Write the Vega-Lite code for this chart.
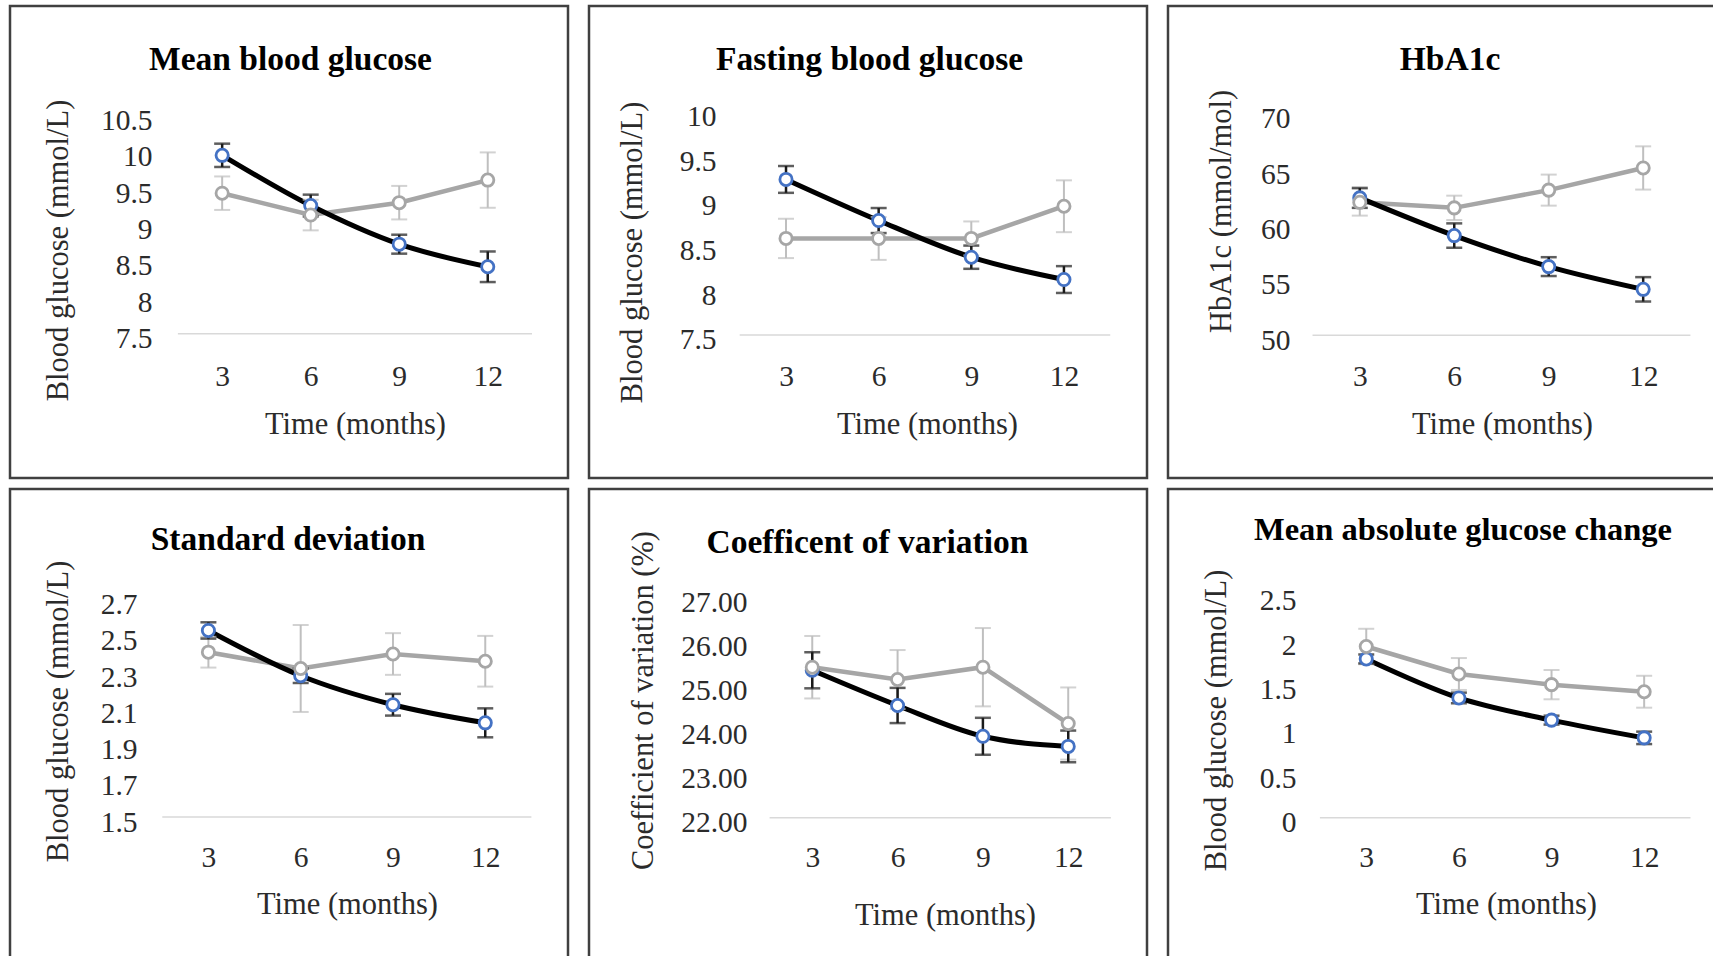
{
"$schema":"https://vega.github.io/schema/vega-lite/v6.json",
"background":"#ffffff",
"padding":{"left":8,"top":4,"right":0,"bottom":0},
"config":{
 "view":{"stroke":"#404040","strokeWidth":2.5,"fill":"#ffffff"},
 "axis":{"domain":false,"ticks":false,"tickSize":0,"grid":false,"labelPadding":0,"labelFont":"Liberation Serif","labelFontSize":29.5,"labelColor":"#2b2b2b","titleFont":"Liberation Serif","titleFontSize":30.5,"titleFontWeight":"normal","titleColor":"#2b2b2b","labelOverlap":false,"labelFlush":false,"labelBound":false,"titlePadding":0},
 "axisY":{"labelAlign":"right","labelBaseline":"middle","labelOffset":5,"titleAngle":-90,"titleBaseline":"middle","titleAlign":"center"},
 "axisX":{"labelAlign":"center","labelBaseline":"middle","titleAngle":0,"titleBaseline":"middle","titleAlign":"center"},
 "title":{"font":"Liberation Serif","fontWeight":"bold","color":"#000000","anchor":"middle","frame":"group","baseline":"middle"}
},
"datasets":{"glyc":[
 {"p":"MBG","g":"A","m":3,"v":9.95,"lo":9.79,"hi":10.11},
 {"p":"MBG","g":"A","m":6,"v":9.26,"lo":9.11,"hi":9.41},
 {"p":"MBG","g":"A","m":9,"v":8.73,"lo":8.60,"hi":8.86},
 {"p":"MBG","g":"A","m":12,"v":8.42,"lo":8.21,"hi":8.63},
 {"p":"MBG","g":"B","m":3,"v":9.43,"lo":9.20,"hi":9.66},
 {"p":"MBG","g":"B","m":6,"v":9.13,"lo":8.92,"hi":9.34},
 {"p":"MBG","g":"B","m":9,"v":9.30,"lo":9.07,"hi":9.53},
 {"p":"MBG","g":"B","m":12,"v":9.61,"lo":9.23,"hi":9.99},
 {"p":"FBG","g":"A","m":3,"v":9.24,"lo":9.09,"hi":9.39},
 {"p":"FBG","g":"A","m":6,"v":8.78,"lo":8.64,"hi":8.92},
 {"p":"FBG","g":"A","m":9,"v":8.37,"lo":8.24,"hi":8.50},
 {"p":"FBG","g":"A","m":12,"v":8.12,"lo":7.97,"hi":8.27},
 {"p":"FBG","g":"B","m":3,"v":8.58,"lo":8.36,"hi":8.80},
 {"p":"FBG","g":"B","m":6,"v":8.58,"lo":8.34,"hi":8.82},
 {"p":"FBG","g":"B","m":9,"v":8.58,"lo":8.39,"hi":8.77},
 {"p":"FBG","g":"B","m":12,"v":8.94,"lo":8.65,"hi":9.23},
 {"p":"HBA","g":"A","m":3,"v":62.4,"lo":61.5,"hi":63.3},
 {"p":"HBA","g":"A","m":6,"v":59.0,"lo":57.9,"hi":60.1},
 {"p":"HBA","g":"A","m":9,"v":56.2,"lo":55.35,"hi":57.05},
 {"p":"HBA","g":"A","m":12,"v":54.15,"lo":53.05,"hi":55.25},
 {"p":"HBA","g":"B","m":3,"v":62.0,"lo":60.8,"hi":63.2},
 {"p":"HBA","g":"B","m":6,"v":61.5,"lo":60.4,"hi":62.6},
 {"p":"HBA","g":"B","m":9,"v":63.1,"lo":61.7,"hi":64.5},
 {"p":"HBA","g":"B","m":12,"v":65.1,"lo":63.15,"hi":67.05},
 {"p":"SD","g":"A","m":3,"v":2.53,"lo":2.485,"hi":2.575},
 {"p":"SD","g":"A","m":6,"v":2.28,"lo":2.24,"hi":2.32},
 {"p":"SD","g":"A","m":9,"v":2.12,"lo":2.06,"hi":2.18},
 {"p":"SD","g":"A","m":12,"v":2.02,"lo":1.94,"hi":2.10},
 {"p":"SD","g":"B","m":3,"v":2.41,"lo":2.325,"hi":2.495},
 {"p":"SD","g":"B","m":6,"v":2.32,"lo":2.08,"hi":2.56},
 {"p":"SD","g":"B","m":9,"v":2.40,"lo":2.285,"hi":2.515},
 {"p":"SD","g":"B","m":12,"v":2.36,"lo":2.22,"hi":2.50},
 {"p":"CV","g":"A","m":3,"v":25.35,"lo":24.94,"hi":25.76},
 {"p":"CV","g":"A","m":6,"v":24.55,"lo":24.15,"hi":24.95},
 {"p":"CV","g":"A","m":9,"v":23.85,"lo":23.43,"hi":24.27},
 {"p":"CV","g":"A","m":12,"v":23.62,"lo":23.26,"hi":23.98},
 {"p":"CV","g":"B","m":3,"v":25.42,"lo":24.71,"hi":26.13},
 {"p":"CV","g":"B","m":6,"v":25.14,"lo":24.47,"hi":25.81},
 {"p":"CV","g":"B","m":9,"v":25.42,"lo":24.53,"hi":26.31},
 {"p":"CV","g":"B","m":12,"v":24.14,"lo":23.32,"hi":24.96},
 {"p":"MAGE","g":"A","m":3,"v":1.79,"lo":1.74,"hi":1.84},
 {"p":"MAGE","g":"A","m":6,"v":1.35,"lo":1.29,"hi":1.41},
 {"p":"MAGE","g":"A","m":9,"v":1.10,"lo":1.05,"hi":1.15},
 {"p":"MAGE","g":"A","m":12,"v":0.90,"lo":0.83,"hi":0.97},
 {"p":"MAGE","g":"B","m":3,"v":1.93,"lo":1.73,"hi":2.13},
 {"p":"MAGE","g":"B","m":6,"v":1.62,"lo":1.44,"hi":1.80},
 {"p":"MAGE","g":"B","m":9,"v":1.50,"lo":1.335,"hi":1.665},
 {"p":"MAGE","g":"B","m":12,"v":1.42,"lo":1.24,"hi":1.60}
]},
"data":{"name":"glyc"},
"columns":3,
"spacing":{"row":11,"column":21},
"bounds":"flush",
"concat":[
{
 "width":558,"height":472,
 "title":{"text":"Mean blood glucose","fontSize":33.5,"dx":1.5,"offset":-71.5},
 "layer":[
  {"data":{"values":[{}]},"mark":{"type":"rule","color":"#d9d9d9","strokeWidth":1.5},"encoding":{"x":{"datum":1.5,"type":"quantitative","scale":{"domain":[-4.19,14.72],"nice":false},"axis":{"values":[3,6,9,12],"offset":-102,"title":"Time (months)","titleX":345,"titleY":48}},"x2":{"datum":13.5},"y":{"datum":7.5,"type":"quantitative","scale":{"domain":[5.52,12.0],"nice":false},"axis":{"values":[7.5,8,8.5,9,9.5,10,10.5],"format":"~g","offset":-142,"title":"Blood glucose (mmol/L)","titleX":-94,"titleY":244}}}},
  {"transform":[{"filter":"datum.p==='MBG' && datum.g==='B'"}],"mark":{"type":"line","color":"#a6a6a6","strokeWidth":4.5},"encoding":{"x":{"field":"m","type":"quantitative","scale":{"domain":[-4.19,14.72],"nice":false}},"y":{"field":"v","type":"quantitative","scale":{"domain":[5.52,12.0],"nice":false}}}},
  {"transform":[{"filter":"datum.p==='MBG' && datum.g==='A'"}],"mark":{"type":"line","color":"#000000","strokeWidth":5,"interpolate":"monotone"},"encoding":{"x":{"field":"m","type":"quantitative","scale":{"domain":[-4.19,14.72],"nice":false}},"y":{"field":"v","type":"quantitative","scale":{"domain":[5.52,12.0],"nice":false}}}},
  {"transform":[{"filter":"datum.p==='MBG' && datum.g==='B'"}],"mark":{"type":"errorbar","color":"#bfbfbf","thickness":2,"size":16,"ticks":true},"encoding":{"x":{"field":"m","type":"quantitative","scale":{"domain":[-4.19,14.72],"nice":false}},"y":{"field":"lo","type":"quantitative","title":"Blood glucose (mmol/L)","scale":{"domain":[5.52,12.0],"nice":false}},"y2":{"field":"hi"}}},
  {"transform":[{"filter":"datum.p==='MBG' && datum.g==='A'"}],"mark":{"type":"errorbar","color":"#1a1a1a","thickness":2.5,"size":16,"ticks":true},"encoding":{"x":{"field":"m","type":"quantitative","scale":{"domain":[-4.19,14.72],"nice":false}},"y":{"field":"lo","type":"quantitative","title":"Blood glucose (mmol/L)","scale":{"domain":[5.52,12.0],"nice":false}},"y2":{"field":"hi"}}},
  {"transform":[{"filter":"datum.p==='MBG' && datum.g==='A'"}],"mark":{"type":"point","shape":"circle","filled":true,"fill":"#ffffff","stroke":"#4472c4","strokeWidth":2.8,"size":150,"opacity":1},"encoding":{"x":{"field":"m","type":"quantitative","scale":{"domain":[-4.19,14.72],"nice":false}},"y":{"field":"v","type":"quantitative","scale":{"domain":[5.52,12.0],"nice":false}}}},
  {"transform":[{"filter":"datum.p==='MBG' && datum.g==='B'"}],"mark":{"type":"point","shape":"circle","filled":true,"fill":"#ffffff","stroke":"#a6a6a6","strokeWidth":2.8,"size":150,"opacity":1},"encoding":{"x":{"field":"m","type":"quantitative","scale":{"domain":[-4.19,14.72],"nice":false}},"y":{"field":"v","type":"quantitative","scale":{"domain":[5.52,12.0],"nice":false}}}}
 ]
},
{
 "width":558,"height":472,
 "title":{"text":"Fasting blood glucose","fontSize":33.5,"dx":1.5,"offset":-71.5},
 "layer":[
  {"data":{"values":[{}]},"mark":{"type":"rule","color":"#d9d9d9","strokeWidth":1.5},"encoding":{"x":{"datum":1.5,"type":"quantitative","scale":{"domain":[-3.38,14.69],"nice":false},"axis":{"values":[3,6,9,12],"offset":-102,"title":"Time (months)","titleX":338,"titleY":48}},"x2":{"datum":13.5},"y":{"datum":7.5,"type":"quantitative","scale":{"domain":[5.90,11.18],"nice":false},"axis":{"values":[7.5,8,8.5,9,9.5,10],"format":"~g","offset":-127,"title":"Blood glucose (mmol/L)","titleX":-83.5,"titleY":246}}}},
  {"transform":[{"filter":"datum.p==='FBG' && datum.g==='B'"}],"mark":{"type":"line","color":"#a6a6a6","strokeWidth":4.5},"encoding":{"x":{"field":"m","type":"quantitative","scale":{"domain":[-3.38,14.69],"nice":false}},"y":{"field":"v","type":"quantitative","scale":{"domain":[5.90,11.18],"nice":false}}}},
  {"transform":[{"filter":"datum.p==='FBG' && datum.g==='A'"}],"mark":{"type":"line","color":"#000000","strokeWidth":5,"interpolate":"monotone"},"encoding":{"x":{"field":"m","type":"quantitative","scale":{"domain":[-3.38,14.69],"nice":false}},"y":{"field":"v","type":"quantitative","scale":{"domain":[5.90,11.18],"nice":false}}}},
  {"transform":[{"filter":"datum.p==='FBG' && datum.g==='B'"}],"mark":{"type":"errorbar","color":"#bfbfbf","thickness":2,"size":16,"ticks":true},"encoding":{"x":{"field":"m","type":"quantitative","scale":{"domain":[-3.38,14.69],"nice":false}},"y":{"field":"lo","type":"quantitative","title":"Blood glucose (mmol/L)","scale":{"domain":[5.90,11.18],"nice":false}},"y2":{"field":"hi"}}},
  {"transform":[{"filter":"datum.p==='FBG' && datum.g==='A'"}],"mark":{"type":"errorbar","color":"#1a1a1a","thickness":2.5,"size":16,"ticks":true},"encoding":{"x":{"field":"m","type":"quantitative","scale":{"domain":[-3.38,14.69],"nice":false}},"y":{"field":"lo","type":"quantitative","title":"Blood glucose (mmol/L)","scale":{"domain":[5.90,11.18],"nice":false}},"y2":{"field":"hi"}}},
  {"transform":[{"filter":"datum.p==='FBG' && datum.g==='A'"}],"mark":{"type":"point","shape":"circle","filled":true,"fill":"#ffffff","stroke":"#4472c4","strokeWidth":2.8,"size":150,"opacity":1},"encoding":{"x":{"field":"m","type":"quantitative","scale":{"domain":[-3.38,14.69],"nice":false}},"y":{"field":"v","type":"quantitative","scale":{"domain":[5.90,11.18],"nice":false}}}},
  {"transform":[{"filter":"datum.p==='FBG' && datum.g==='B'"}],"mark":{"type":"point","shape":"circle","filled":true,"fill":"#ffffff","stroke":"#a6a6a6","strokeWidth":2.8,"size":150,"opacity":1},"encoding":{"x":{"field":"m","type":"quantitative","scale":{"domain":[-3.38,14.69],"nice":false}},"y":{"field":"v","type":"quantitative","scale":{"domain":[5.90,11.18],"nice":false}}}}
 ]
},
{
 "width":558,"height":472,
 "title":{"text":"HbA1c","fontSize":33.5,"dx":3,"offset":-71.5},
 "layer":[
  {"data":{"values":[{}]},"mark":{"type":"rule","color":"#d9d9d9","strokeWidth":1.5},"encoding":{"x":{"datum":1.5,"type":"quantitative","scale":{"domain":[-3.09,14.63],"nice":false},"axis":{"values":[3,6,9,12],"offset":-102,"title":"Time (months)","titleX":334,"titleY":48}},"x2":{"datum":13.5},"y":{"datum":50,"type":"quantitative","scale":{"domain":[37.13,79.71],"nice":false},"axis":{"values":[50,55,60,65,70],"format":"~g","offset":-122,"title":"HbA1c (mmol/mol)","titleX":-69,"titleY":205}}}},
  {"transform":[{"filter":"datum.p==='HBA' && datum.g==='B'"}],"mark":{"type":"line","color":"#a6a6a6","strokeWidth":4.5},"encoding":{"x":{"field":"m","type":"quantitative","scale":{"domain":[-3.09,14.63],"nice":false}},"y":{"field":"v","type":"quantitative","scale":{"domain":[37.13,79.71],"nice":false}}}},
  {"transform":[{"filter":"datum.p==='HBA' && datum.g==='A'"}],"mark":{"type":"line","color":"#000000","strokeWidth":5,"interpolate":"monotone"},"encoding":{"x":{"field":"m","type":"quantitative","scale":{"domain":[-3.09,14.63],"nice":false}},"y":{"field":"v","type":"quantitative","scale":{"domain":[37.13,79.71],"nice":false}}}},
  {"transform":[{"filter":"datum.p==='HBA' && datum.g==='B'"}],"mark":{"type":"errorbar","color":"#bfbfbf","thickness":2,"size":16,"ticks":true},"encoding":{"x":{"field":"m","type":"quantitative","scale":{"domain":[-3.09,14.63],"nice":false}},"y":{"field":"lo","type":"quantitative","title":"HbA1c (mmol/mol)","scale":{"domain":[37.13,79.71],"nice":false}},"y2":{"field":"hi"}}},
  {"transform":[{"filter":"datum.p==='HBA' && datum.g==='A'"}],"mark":{"type":"errorbar","color":"#1a1a1a","thickness":2.5,"size":16,"ticks":true},"encoding":{"x":{"field":"m","type":"quantitative","scale":{"domain":[-3.09,14.63],"nice":false}},"y":{"field":"lo","type":"quantitative","title":"HbA1c (mmol/mol)","scale":{"domain":[37.13,79.71],"nice":false}},"y2":{"field":"hi"}}},
  {"transform":[{"filter":"datum.p==='HBA' && datum.g==='A'"}],"mark":{"type":"point","shape":"circle","filled":true,"fill":"#ffffff","stroke":"#4472c4","strokeWidth":2.8,"size":150,"opacity":1},"encoding":{"x":{"field":"m","type":"quantitative","scale":{"domain":[-3.09,14.63],"nice":false}},"y":{"field":"v","type":"quantitative","scale":{"domain":[37.13,79.71],"nice":false}}}},
  {"transform":[{"filter":"datum.p==='HBA' && datum.g==='B'"}],"mark":{"type":"point","shape":"circle","filled":true,"fill":"#ffffff","stroke":"#a6a6a6","strokeWidth":2.8,"size":150,"opacity":1},"encoding":{"x":{"field":"m","type":"quantitative","scale":{"domain":[-3.09,14.63],"nice":false}},"y":{"field":"v","type":"quantitative","scale":{"domain":[37.13,79.71],"nice":false}}}}
 ]
},
{
 "width":558,"height":472,
 "title":{"text":"Standard deviation","fontSize":33.5,"dx":-1,"offset":-68.5},
 "layer":[
  {"data":{"values":[{}]},"mark":{"type":"rule","color":"#d9d9d9","strokeWidth":1.5},"encoding":{"x":{"datum":1.5,"type":"quantitative","scale":{"domain":[-3.45,14.69],"nice":false},"axis":{"values":[3,6,9,12],"offset":-103.5,"title":"Time (months)","titleX":337,"titleY":47}},"x2":{"datum":13.5},"y":{"datum":1.5,"type":"quantitative","scale":{"domain":[0.705,3.311],"nice":false},"axis":{"values":[1.5,1.7,1.9,2.1,2.3,2.5,2.7],"format":"~g","offset":-127,"title":"Blood glucose (mmol/L)","titleX":-79,"titleY":222}}}},
  {"transform":[{"filter":"datum.p==='SD' && datum.g==='B'"}],"mark":{"type":"line","color":"#a6a6a6","strokeWidth":4.5},"encoding":{"x":{"field":"m","type":"quantitative","scale":{"domain":[-3.45,14.69],"nice":false}},"y":{"field":"v","type":"quantitative","scale":{"domain":[0.705,3.311],"nice":false}}}},
  {"transform":[{"filter":"datum.p==='SD' && datum.g==='A'"}],"mark":{"type":"line","color":"#000000","strokeWidth":5,"interpolate":"monotone"},"encoding":{"x":{"field":"m","type":"quantitative","scale":{"domain":[-3.45,14.69],"nice":false}},"y":{"field":"v","type":"quantitative","scale":{"domain":[0.705,3.311],"nice":false}}}},
  {"transform":[{"filter":"datum.p==='SD' && datum.g==='B'"}],"mark":{"type":"errorbar","color":"#bfbfbf","thickness":2,"size":16,"ticks":true},"encoding":{"x":{"field":"m","type":"quantitative","scale":{"domain":[-3.45,14.69],"nice":false}},"y":{"field":"lo","type":"quantitative","title":"Blood glucose (mmol/L)","scale":{"domain":[0.705,3.311],"nice":false}},"y2":{"field":"hi"}}},
  {"transform":[{"filter":"datum.p==='SD' && datum.g==='A'"}],"mark":{"type":"errorbar","color":"#1a1a1a","thickness":2.5,"size":16,"ticks":true},"encoding":{"x":{"field":"m","type":"quantitative","scale":{"domain":[-3.45,14.69],"nice":false}},"y":{"field":"lo","type":"quantitative","title":"Blood glucose (mmol/L)","scale":{"domain":[0.705,3.311],"nice":false}},"y2":{"field":"hi"}}},
  {"transform":[{"filter":"datum.p==='SD' && datum.g==='A'"}],"mark":{"type":"point","shape":"circle","filled":true,"fill":"#ffffff","stroke":"#4472c4","strokeWidth":2.8,"size":150,"opacity":1},"encoding":{"x":{"field":"m","type":"quantitative","scale":{"domain":[-3.45,14.69],"nice":false}},"y":{"field":"v","type":"quantitative","scale":{"domain":[0.705,3.311],"nice":false}}}},
  {"transform":[{"filter":"datum.p==='SD' && datum.g==='B'"}],"mark":{"type":"point","shape":"circle","filled":true,"fill":"#ffffff","stroke":"#a6a6a6","strokeWidth":2.8,"size":150,"opacity":1},"encoding":{"x":{"field":"m","type":"quantitative","scale":{"domain":[-3.45,14.69],"nice":false}},"y":{"field":"v","type":"quantitative","scale":{"domain":[0.705,3.311],"nice":false}}}}
 ]
},
{
 "width":558,"height":472,
 "title":{"text":"Coefficent of variation","fontSize":33.5,"dx":-0.6,"offset":-71.5},
 "layer":[
  {"data":{"values":[{}]},"mark":{"type":"rule","color":"#d9d9d9","strokeWidth":1.5},"encoding":{"x":{"datum":1.5,"type":"quantitative","scale":{"domain":[-4.85,14.77],"nice":false},"axis":{"values":[3,6,9,12],"offset":-103.5,"title":"Time (months)","titleX":356,"titleY":58}},"x2":{"datum":13.5},"y":{"datum":22,"type":"quantitative","scale":{"domain":[18.743,29.47],"nice":false},"axis":{"values":[22,23,24,25,26,27],"format":".2f","offset":-158,"title":"Coefficient of variation (%)","titleX":-104,"titleY":211}}}},
  {"transform":[{"filter":"datum.p==='CV' && datum.g==='B'"}],"mark":{"type":"line","color":"#a6a6a6","strokeWidth":4.5},"encoding":{"x":{"field":"m","type":"quantitative","scale":{"domain":[-4.85,14.77],"nice":false}},"y":{"field":"v","type":"quantitative","scale":{"domain":[18.743,29.47],"nice":false}}}},
  {"transform":[{"filter":"datum.p==='CV' && datum.g==='A'"}],"mark":{"type":"line","color":"#000000","strokeWidth":5,"interpolate":"monotone"},"encoding":{"x":{"field":"m","type":"quantitative","scale":{"domain":[-4.85,14.77],"nice":false}},"y":{"field":"v","type":"quantitative","scale":{"domain":[18.743,29.47],"nice":false}}}},
  {"transform":[{"filter":"datum.p==='CV' && datum.g==='B'"}],"mark":{"type":"errorbar","color":"#bfbfbf","thickness":2,"size":16,"ticks":true},"encoding":{"x":{"field":"m","type":"quantitative","scale":{"domain":[-4.85,14.77],"nice":false}},"y":{"field":"lo","type":"quantitative","title":"Coefficient of variation (%)","scale":{"domain":[18.743,29.47],"nice":false}},"y2":{"field":"hi"}}},
  {"transform":[{"filter":"datum.p==='CV' && datum.g==='A'"}],"mark":{"type":"errorbar","color":"#1a1a1a","thickness":2.5,"size":16,"ticks":true},"encoding":{"x":{"field":"m","type":"quantitative","scale":{"domain":[-4.85,14.77],"nice":false}},"y":{"field":"lo","type":"quantitative","title":"Coefficient of variation (%)","scale":{"domain":[18.743,29.47],"nice":false}},"y2":{"field":"hi"}}},
  {"transform":[{"filter":"datum.p==='CV' && datum.g==='A'"}],"mark":{"type":"point","shape":"circle","filled":true,"fill":"#ffffff","stroke":"#4472c4","strokeWidth":2.8,"size":150,"opacity":1},"encoding":{"x":{"field":"m","type":"quantitative","scale":{"domain":[-4.85,14.77],"nice":false}},"y":{"field":"v","type":"quantitative","scale":{"domain":[18.743,29.47],"nice":false}}}},
  {"transform":[{"filter":"datum.p==='CV' && datum.g==='B'"}],"mark":{"type":"point","shape":"circle","filled":true,"fill":"#ffffff","stroke":"#a6a6a6","strokeWidth":2.8,"size":150,"opacity":1},"encoding":{"x":{"field":"m","type":"quantitative","scale":{"domain":[-4.85,14.77],"nice":false}},"y":{"field":"v","type":"quantitative","scale":{"domain":[18.743,29.47],"nice":false}}}}
 ]
},
{
 "width":558,"height":472,
 "title":{"text":"Mean absolute glucose change","fontSize":32.5,"dx":16,"offset":-57.5},
 "layer":[
  {"data":{"values":[{}]},"mark":{"type":"rule","color":"#d9d9d9","strokeWidth":1.5},"encoding":{"x":{"datum":1.5,"type":"quantitative","scale":{"domain":[-3.42,14.65],"nice":false},"axis":{"values":[3,6,9,12],"offset":-103.5,"title":"Time (months)","titleX":338,"titleY":47}},"x2":{"datum":13.5},"y":{"datum":0,"type":"quantitative","scale":{"domain":[-1.616,3.706],"nice":false},"axis":{"values":[0,0.5,1,1.5,2,2.5],"format":"~g","offset":-128,"title":"Blood glucose (mmol/L)","titleX":-80,"titleY":231}}}},
  {"transform":[{"filter":"datum.p==='MAGE' && datum.g==='B'"}],"mark":{"type":"line","color":"#a6a6a6","strokeWidth":4.5},"encoding":{"x":{"field":"m","type":"quantitative","scale":{"domain":[-3.42,14.65],"nice":false}},"y":{"field":"v","type":"quantitative","scale":{"domain":[-1.616,3.706],"nice":false}}}},
  {"transform":[{"filter":"datum.p==='MAGE' && datum.g==='A'"}],"mark":{"type":"line","color":"#000000","strokeWidth":5,"interpolate":"monotone"},"encoding":{"x":{"field":"m","type":"quantitative","scale":{"domain":[-3.42,14.65],"nice":false}},"y":{"field":"v","type":"quantitative","scale":{"domain":[-1.616,3.706],"nice":false}}}},
  {"transform":[{"filter":"datum.p==='MAGE' && datum.g==='B'"}],"mark":{"type":"errorbar","color":"#bfbfbf","thickness":2,"size":16,"ticks":true},"encoding":{"x":{"field":"m","type":"quantitative","scale":{"domain":[-3.42,14.65],"nice":false}},"y":{"field":"lo","type":"quantitative","title":"Blood glucose (mmol/L)","scale":{"domain":[-1.616,3.706],"nice":false}},"y2":{"field":"hi"}}},
  {"transform":[{"filter":"datum.p==='MAGE' && datum.g==='A'"}],"mark":{"type":"errorbar","color":"#1a1a1a","thickness":2.5,"size":16,"ticks":true},"encoding":{"x":{"field":"m","type":"quantitative","scale":{"domain":[-3.42,14.65],"nice":false}},"y":{"field":"lo","type":"quantitative","title":"Blood glucose (mmol/L)","scale":{"domain":[-1.616,3.706],"nice":false}},"y2":{"field":"hi"}}},
  {"transform":[{"filter":"datum.p==='MAGE' && datum.g==='A'"}],"mark":{"type":"point","shape":"circle","filled":true,"fill":"#ffffff","stroke":"#4472c4","strokeWidth":2.8,"size":150,"opacity":1},"encoding":{"x":{"field":"m","type":"quantitative","scale":{"domain":[-3.42,14.65],"nice":false}},"y":{"field":"v","type":"quantitative","scale":{"domain":[-1.616,3.706],"nice":false}}}},
  {"transform":[{"filter":"datum.p==='MAGE' && datum.g==='B'"}],"mark":{"type":"point","shape":"circle","filled":true,"fill":"#ffffff","stroke":"#a6a6a6","strokeWidth":2.8,"size":150,"opacity":1},"encoding":{"x":{"field":"m","type":"quantitative","scale":{"domain":[-3.42,14.65],"nice":false}},"y":{"field":"v","type":"quantitative","scale":{"domain":[-1.616,3.706],"nice":false}}}}
 ]
}
]
}
